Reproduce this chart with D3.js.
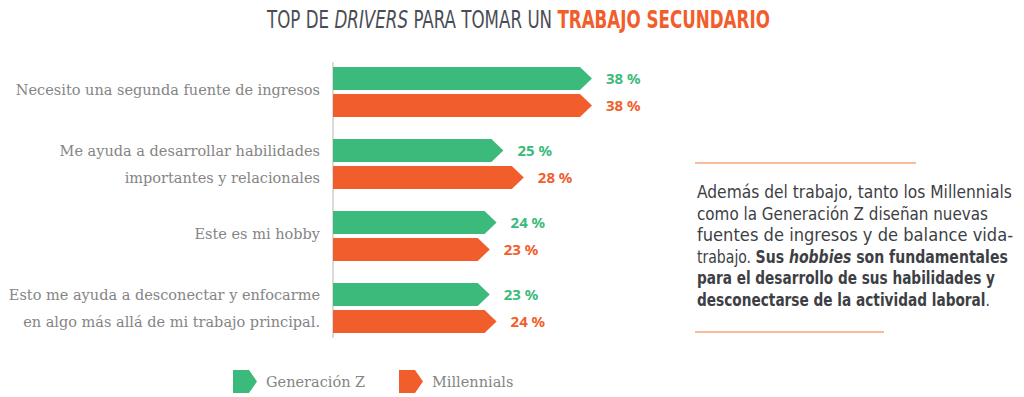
<!DOCTYPE html>
<meta charset="utf-8">
<style>
body { margin: 0; background: #fff; }
svg { display: block; }
.cat { font-family: "DejaVu Serif", serif; font-size: 14.5px; fill: #858585; }
.val { font-family: "Noto Sans", sans-serif; font-weight: 700; font-size: 15px; }
.title { font-family: "DejaVu Sans Condensed", "DejaVu Sans", sans-serif; font-stretch: condensed; font-size: 24px; fill: #4a4d55; }
.note { font-family: "DejaVu Sans Condensed", "DejaVu Sans", sans-serif; font-stretch: condensed; font-size: 17.4px; fill: #3d3f45; }
.leg { font-family: "DejaVu Serif", serif; font-size: 14.5px; fill: #858585; }
</style>
<svg width="1024" height="397"></svg>
<script src="https://d3js.org/d3.v7.min.js"></script>
<script>

var categories = [
  ["Necesito una segunda fuente de ingresos"],
  ["Me ayuda a desarrollar habilidades", "importantes y relacionales"],
  ["Este es mi hobby"],
  ["Esto me ayuda a desconectar y enfocarme", "en algo más allá de mi trabajo principal."]
];
var series = ["Generación Z", "Millennials"];
var genZ = [38, 25, 24, 23];
var millennials = [38, 28, 23, 24];
var colors = ["#3cba7b", "#f15e2c"];

var svg = d3.select("svg");

var rows = categories.map(function(c, i) {
  return { key: i, lines: c, values: [genZ[i], millennials[i]] };
});

var x = d3.scaleLinear().domain([0, 40]).range([333, 333 + 272.6]);
var y0 = d3.scaleBand().domain(d3.range(categories.length))
    .range([56, 344]).paddingInner(22 / 72).paddingOuter(11 / 72);
var y1 = d3.scaleBand().domain(series).range([0, y0.bandwidth()]).paddingInner(0.148);

var tip = 12;
function chevron(x0, x1, yt, h, t) {
  return "M" + x0 + "," + yt + "H" + (x1 - t) + "L" + x1 + "," + (yt + h / 2) +
    "L" + (x1 - t) + "," + (yt + h) + "H" + x0 + "Z";
}

// squeeze a text line horizontally to a target width
function fitWidth(sel, x0, y, w) {
  var n = sel.node();
  var k = w / n.getComputedTextLength();
  sel.attr("x", 0).attr("y", 0)
    .attr("transform", "translate(" + x0 + "," + y + ") scale(" + k + ",1)");
}

// title
var title = svg.append("text").attr("class", "title");
title.append("tspan").text("TOP DE ");
title.append("tspan").attr("font-style", "italic").text("DRIVERS");
title.append("tspan").text(" PARA TOMAR UN ");
title.append("tspan").attr("font-weight", 700).attr("fill", "#f15e2c").text("TRABAJO SECUNDARIO");
fitWidth(title, 267, 28, 503);

// axis line
svg.append("line")
    .attr("x1", x(0)).attr("x2", x(0))
    .attr("y1", 62).attr("y2", 338)
    .attr("stroke", "#cfcfcf").attr("stroke-width", 1.5);

var group = svg.append("g").selectAll("g")
  .data(rows)
  .enter().append("g")
    .attr("transform", function(d) { return "translate(0," + y0(d.key) + ")"; });

group.selectAll("path")
  .data(function(d) { return d.values.map(function(v, j) { return { s: series[j], v: v, j: j }; }); })
  .enter().append("path")
    .attr("d", function(d) { return chevron(x(0), x(d.v), y1(d.s), y1.bandwidth(), tip); })
    .attr("fill", function(d) { return colors[d.j]; });

group.selectAll(".val")
  .data(function(d) { return d.values.map(function(v, j) { return { s: series[j], v: v, j: j }; }); })
  .enter().append("text")
    .attr("class", "val")
    .attr("x", function(d) { return x(d.v) + 14; })
    .attr("y", function(d) { return y1(d.s) + y1.bandwidth() / 2; })
    .attr("dy", "0.36em")
    .attr("fill", function(d) { return colors[d.j]; })
    .text(function(d) { return d.v + " %"; });

group.each(function(d) {
  var g = d3.select(this);
  d.lines.forEach(function(line, k) {
    var cy = d.lines.length === 1 ? y0.bandwidth() / 2 - 2 : y1(series[k]) + y1.bandwidth() / 2;
    g.append("text").attr("class", "cat")
      .attr("x", 320).attr("y", cy).attr("dy", "0.35em")
      .attr("text-anchor", "end").text(line);
  });
});

// legend
var legend = svg.append("g").selectAll("g")
  .data(series)
  .enter().append("g")
    .attr("transform", function(d, i) { return "translate(" + [233, 399][i] + ",370)"; });
legend.append("path")
    .attr("d", chevron(0, 24, 0, 23, 8))
    .attr("fill", function(d, i) { return colors[i]; });
legend.append("text").attr("class", "leg")
    .attr("x", 33).attr("y", 12).attr("dy", "0.35em")
    .text(function(d) { return d; });

// side note
var noteLines = [
  [["Además del trabajo, tanto los Millennials", 400]],
  [["como la Generación Z diseñan nuevas", 400]],
  [["fuentes de ingresos y de balance vida-", 400]],
  [["trabajo. ", 400], ["Sus ", 700], ["hobbies", 700, "italic"], [" son fundamentales", 700]],
  [["para el desarrollo de sus habilidades y", 700]],
  [["desconectarse de la actividad laboral", 700], [".", 400]]
];
var noteWidths = [315, 291, 316, 311, 298, 293];
svg.append("line").attr("x1", 695).attr("x2", 916).attr("y1", 163).attr("y2", 163)
    .attr("stroke", "#f7a57d").attr("stroke-width", 1.5);
svg.append("line").attr("x1", 695).attr("x2", 884).attr("y1", 332).attr("y2", 332)
    .attr("stroke", "#f7a57d").attr("stroke-width", 1.5);
noteLines.forEach(function(parts, i) {
  var t = svg.append("text").attr("class", "note");
  parts.forEach(function(p) {
    t.append("tspan").attr("font-weight", p[1]).attr("font-style", p[2] || null).text(p[0]);
  });
  fitWidth(t, 697, 198 + i * 21.6, noteWidths[i]);
});

</script>
